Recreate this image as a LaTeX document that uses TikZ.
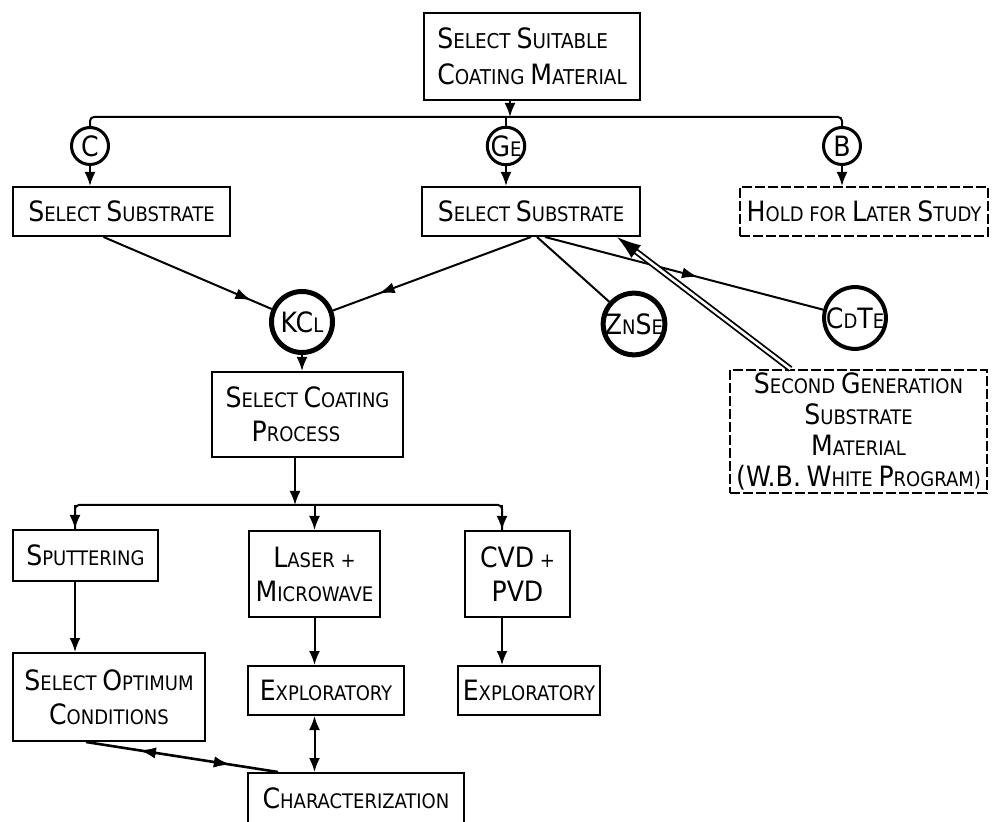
\documentclass[tikz,border=0pt]{standalone}
\usepackage{fontspec}
\setmainfont{DejaVu Sans Condensed}
\usetikzlibrary{arrows.meta,calc,decorations.markings}
\newcommand\BG[1]{{\fontsize{14}{15}\selectfont #1}}
\newcommand\BT[1]{{\fontsize{14}{15}\selectfont #1}}
\begin{document}
\begin{tikzpicture}[x=0.5pt,y=-0.5pt,
  every node/.style={font=\fontsize{10}{17}\selectfont, inner sep=1pt},
  box/.style={draw, line width=1pt, align=center},
  dbox/.style={box, dash pattern=on 5pt off 1.5pt},
  smallc/.style={draw, circle, line width=1.5pt, minimum size=18.5pt, inner sep=0pt},
  bigc/.style={draw, circle, line width=2.5pt, minimum size=30.5pt, inner sep=0pt},
  conn/.style={line width=1pt},
  arr/.style={conn, -{Latex[length=7pt,width=5.5pt]}},
  tip/.style={decoration={markings, mark=at position #1 with {\arrow{Latex[length=8pt,width=5.5pt]}}}, postaction={decorate}},
  rtip/.style={decoration={markings, mark=at position #1 with {\arrowreversed{Latex[length=8pt,width=5.5pt]}}}, postaction={decorate}}
]
\fill[white] (0,0) rectangle (994,822);
\clip (0,0) rectangle (994,822);

% nodes
\node[box, minimum width=108pt, minimum height=43.5pt, align=left, font=\fontsize{10.2}{18}\selectfont] (top) at (532,56.5)
  {\BT{S}ELECT \BT{S}UITABLE\\\BT{C}OATING \BT{M}ATERIAL};
\node[smallc] (C) at (90,146) {\BG{C}};
\node[smallc] (Ge) at (506,146) {\BG{G}E};
\node[smallc] (B) at (842,146) {\BG{B}};
\node[box, minimum width=108.5pt, minimum height=24.5pt] (ssC) at (121.5,211.5) {\BG{S}ELECT \BG{S}UBSTRATE};
\node[box, minimum width=109pt, minimum height=24.5pt] (ssG) at (531,211.5) {\BG{S}ELECT \BG{S}UBSTRATE};
\node[dbox, minimum width=124pt, minimum height=24.5pt] (hold) at (864,211.5) {\BG{H}OLD FOR \BG{L}ATER \BG{S}TUDY};
\node[bigc] (KCl) at (302,322) {\BG{K}\BG{C}L};
\node[bigc] (ZnSe) at (634,324) {\BG{Z}N\BG{S}E};
\node[draw, circle, line width=2pt, minimum size=25pt, inner sep=0pt] (CdTe) at (855,318) {\BG{C}D\BG{T}E};
\node[box, minimum width=95.5pt, minimum height=42.5pt, align=left] (coat) at (307.5,414.5)
  {\BG{S}ELECT \BG{C}OATING\\\hspace{1.3em}\BG{P}ROCESS};
\node[dbox, minimum width=128.5pt, minimum height=61.5pt, font=\fontsize{10}{15.5}\selectfont] (second) at (858.5,431.5)
  {\BG{S}ECOND \BG{G}ENERATION\\\BG{S}UBSTRATE\\\BG{M}ATERIAL\\\BG{(W.B.} \BG{W}HITE \BG{P}ROGRAM)};
\node[box, minimum width=72.5pt, minimum height=25.5pt] (sput) at (85.5,555.5) {\BG{S}PUTTERING};
\node[box, minimum width=65.5pt, minimum height=43pt] (laser) at (314.5,574) {\BG{L}ASER +\\\BG{M}ICROWAVE};
\node[box, minimum width=52.5pt, minimum height=43pt] (cvd) at (517.5,574) {\BG{CVD} +\\\BG{PVD}};
\node[box, minimum width=96pt, minimum height=44pt] (opt) at (109,697) {\BG{S}ELECT \BG{O}PTIMUM\\\BG{C}ONDITIONS};
\node[box, minimum width=78pt, minimum height=24.5pt] (exp1) at (326,690.5) {\BG{E}XPLORATORY};
\node[box, minimum width=71pt, minimum height=24.5pt] (exp2) at (529,690.5) {\BG{E}XPLORATORY};
\node[box, minimum width=108pt, minimum height=25pt] (char) at (356,798) {\BG{C}HARACTERIZATION};

% top distribution
\coordinate (h1) at (510,117);
\draw[arr] (top.south -| h1) -- (h1);
\draw[conn, rounded corners=2pt] (C.north) -- (C.north |- h1) -- (B.north |- h1) -- (B.north);
\draw[conn] (Ge.north) -- (Ge.north |- h1);
\draw[arr] (C.south) -- (ssC.north -| C.south);
\draw[arr] (Ge.south) -- (ssG.north -| Ge.south);
\draw[arr] (B.south) -- (hold.north -| B.south);

% substrate links
\draw[conn, tip=0.88] ($(ssC.south)+(-18,0)$) -- (KCl);
\draw[conn, tip=0.77] (ssG.south) -- (KCl);
\draw[conn] ($(ssG.south)+(6,0)$) -- (ZnSe);
\draw[conn, tip=0.55] ($(ssG.south)+(14,0)$) -- (CdTe);
\draw[line width=0.9pt, double, double distance=1.3pt, -{Latex[length=12pt,width=8pt]}]
  ($(second.north)+(-68,0)$) -- ($(ssG.south)+(86,0)$);

% coating process
\draw[arr] (KCl.south) -- (coat.north -| KCl.south);
\coordinate (b0) at (295,505);
\coordinate (bL) at (75,505);
\coordinate (bR) at (502,505);
\draw[arr] (coat.south -| b0) -- (b0);
\draw[conn, rounded corners=2pt] (sput.north -| bL) -- (bL) -- (bR) -- (cvd.north -| bR);
\draw[arr] (bL) -- (sput.north -| bL);
\draw[arr] (laser.north |- b0) -- (laser.north);
\draw[arr] (bR) -- (cvd.north -| bR);

% lower chain
\coordinate (oc1) at (86,741);
\coordinate (oc2) at (278,773);
\draw[arr] (sput.south -| bL) -- (opt.north -| bL);
\draw[arr] (laser.south) -- (exp1.north -| laser.south);
\draw[arr] (cvd.south -| bR) -- (exp2.north -| bR);
\draw[conn, {Latex[length=7pt,width=5.5pt]}-{Latex[length=7pt,width=5.5pt]}] (exp1.south -| laser.south) -- (char.north -| laser.south);
\draw[line width=1.3pt, rtip=0.28, tip=0.75] (opt.south -| oc1) -- (char.north -| oc2);
\end{tikzpicture}
\end{document}
